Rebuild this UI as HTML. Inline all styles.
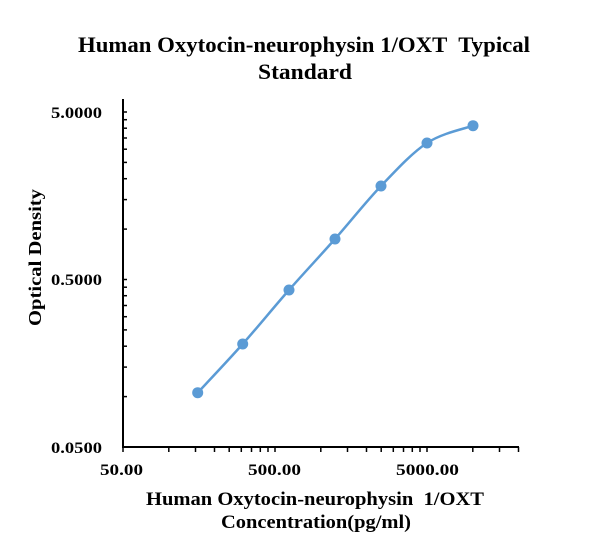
<!DOCTYPE html>
<html><head><meta charset="utf-8"><style>
body{margin:0;background:#fff}
svg{display:block}
text{font-family:"Liberation Serif",serif;font-weight:bold;fill:#000}
</style></head><body>
<svg width="610" height="557" viewBox="0 0 610 557" xmlns="http://www.w3.org/2000/svg">
<text x="78" y="52" font-size="22" textLength="452" lengthAdjust="spacingAndGlyphs">Human Oxytocin-neurophysin 1/OXT&#160; Typical</text>
<text x="258" y="79" font-size="22" textLength="94" lengthAdjust="spacingAndGlyphs">Standard</text>
<g stroke="#000" stroke-width="2" fill="none">
<line x1="123" y1="99" x2="123" y2="448"/>
<line x1="122" y1="447" x2="519" y2="447"/>
</g>
<g stroke="#000" stroke-width="1.5">
<line x1="123" x2="127" y1="396.6" y2="396.6"/><line x1="123" x2="127" y1="367.1" y2="367.1"/><line x1="123" x2="127" y1="346.2" y2="346.2"/><line x1="123" x2="127" y1="329.9" y2="329.9"/><line x1="123" x2="127" y1="316.7" y2="316.7"/><line x1="123" x2="127" y1="305.5" y2="305.5"/><line x1="123" x2="127" y1="295.7" y2="295.7"/><line x1="123" x2="127" y1="287.2" y2="287.2"/><line x1="123" x2="127" y1="279.5" y2="279.5"/>
<line x1="123" x2="127" y1="229.1" y2="229.1"/><line x1="123" x2="127" y1="199.6" y2="199.6"/><line x1="123" x2="127" y1="178.7" y2="178.7"/><line x1="123" x2="127" y1="162.4" y2="162.4"/><line x1="123" x2="127" y1="149.2" y2="149.2"/><line x1="123" x2="127" y1="138" y2="138"/><line x1="123" x2="127" y1="128.2" y2="128.2"/><line x1="123" x2="127" y1="119.7" y2="119.7"/><line x1="123" x2="127" y1="112" y2="112"/>
<line y1="447" y2="452" x1="123" x2="123"/><line y1="447" y2="452" x1="168.8" x2="168.8"/><line y1="447" y2="452" x1="195.5" x2="195.5"/><line y1="447" y2="452" x1="214.5" x2="214.5"/><line y1="447" y2="452" x1="229.2" x2="229.2"/><line y1="447" y2="452" x1="241.3" x2="241.3"/><line y1="447" y2="452" x1="251.5" x2="251.5"/><line y1="447" y2="452" x1="260.3" x2="260.3"/><line y1="447" y2="452" x1="268" x2="268"/><line y1="447" y2="452" x1="275" x2="275"/>
<line y1="447" y2="452" x1="320.8" x2="320.8"/><line y1="447" y2="452" x1="347.5" x2="347.5"/><line y1="447" y2="452" x1="366.5" x2="366.5"/><line y1="447" y2="452" x1="381.2" x2="381.2"/><line y1="447" y2="452" x1="393.3" x2="393.3"/><line y1="447" y2="452" x1="403.5" x2="403.5"/><line y1="447" y2="452" x1="412.3" x2="412.3"/><line y1="447" y2="452" x1="420" x2="420"/><line y1="447" y2="452" x1="427" x2="427"/>
<line y1="447" y2="452" x1="472.8" x2="472.8"/><line y1="447" y2="452" x1="499.5" x2="499.5"/><line y1="447" y2="452" x1="518.5" x2="518.5"/>
</g>
<text x="51" y="118" font-size="16" textLength="51" lengthAdjust="spacingAndGlyphs">5.0000</text>
<text x="51" y="285" font-size="16" textLength="51" lengthAdjust="spacingAndGlyphs">0.5000</text>
<text x="51" y="453" font-size="16" textLength="51" lengthAdjust="spacingAndGlyphs">0.0500</text>
<text x="100" y="475" font-size="16" textLength="43" lengthAdjust="spacingAndGlyphs">50.00</text>
<text x="248" y="475" font-size="16" textLength="53" lengthAdjust="spacingAndGlyphs">500.00</text>
<text x="396" y="475" font-size="16" textLength="63" lengthAdjust="spacingAndGlyphs">5000.00</text>
<text x="146" y="505" font-size="19" textLength="338" lengthAdjust="spacingAndGlyphs">Human Oxytocin-neurophysin&#160; 1/OXT</text>
<text x="221" y="528" font-size="19" textLength="190" lengthAdjust="spacingAndGlyphs">Concentration(pg/ml)</text>
<text transform="translate(41,258) rotate(-90)" x="-68" font-size="18" textLength="137" lengthAdjust="spacingAndGlyphs">Optical Density</text>
<path fill="none" stroke="#5B9BD5" stroke-width="2.5" d="M197.7,392.7 C205.2,384.6 227.5,361.1 242.7,344 C257.9,326.9 273.6,307.5 289,290 C304.4,272.5 319.7,256.3 335,239 C350.3,221.7 365.7,202 381,186 C396.3,170 411.7,153.1 427,143 C442.3,132.9 465.3,128.6 473,125.7"/>
<g fill="#5B9BD5">
<circle cx="197.7" cy="392.7" r="5.5"/><circle cx="242.7" cy="344" r="5.5"/><circle cx="289" cy="290" r="5.5"/><circle cx="335" cy="239" r="5.5"/><circle cx="381" cy="186" r="5.5"/><circle cx="427" cy="143" r="5.5"/><circle cx="473" cy="125.7" r="5.5"/>
</g>
</svg>
</body></html>
